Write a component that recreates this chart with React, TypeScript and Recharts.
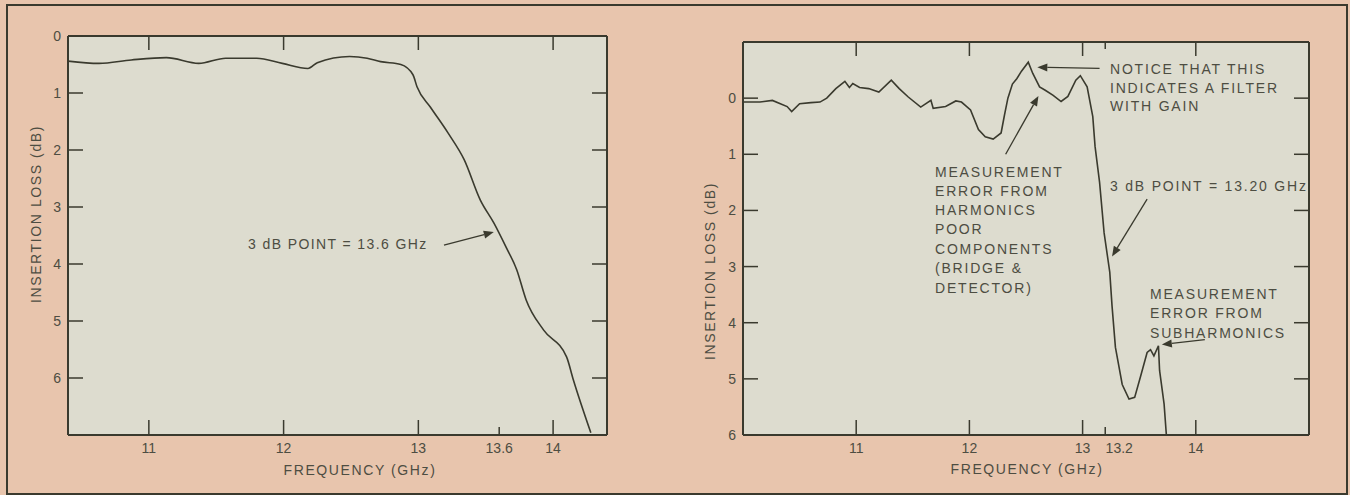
import { LineChart, Line, XAxis, YAxis, CartesianGrid, ReferenceLine } from "recharts";

// left panel: low-pass response
const leftFreq = [10.4, 10.63, 10.87, 11.13, 11.37, 11.57, 11.8, 11.99, 12.18, 12.25, 12.49, 12.62, 12.72, 12.87, 12.96, 12.99, 13.09, 13.22, 13.34, 13.46, 13.56, 13.65, 13.73, 13.8, 13.93, 14.1, 14.15, 14.28];
const leftLoss = [0.44, 0.48, 0.42, 0.38, 0.48, 0.39, 0.39, 0.48, 0.57, 0.47, 0.36, 0.39, 0.45, 0.5, 0.68, 0.89, 1.25, 1.7, 2.17, 2.88, 3.28, 3.7, 4.1, 4.63, 5.16, 5.63, 6.03, 6.96];

// right panel: filter measured with a bad setup
const rightFreq = [10.0, 10.15, 10.26, 10.33, 10.39, 10.43, 10.5, 10.6, 10.68, 10.74, 10.82, 10.9, 10.94, 10.97, 11.03, 11.11, 11.2, 11.31, 11.38, 11.46, 11.57, 11.66, 11.68, 11.79, 11.88, 11.93, 12.01, 12.08, 12.14, 12.21, 12.28, 12.31, 12.34, 12.38, 12.42, 12.46, 12.52, 12.56, 12.62, 12.67, 12.74, 12.81, 12.87, 12.94, 12.98, 13.04, 13.09, 13.11, 13.15, 13.19, 13.24, 13.26, 13.29, 13.35, 13.41, 13.46, 13.51, 13.57, 13.6, 13.63, 13.67, 13.68, 13.72, 13.74];
const rightLoss = [0.07, 0.07, 0.04, 0.1, 0.15, 0.24, 0.1, 0.08, 0.07, 0.0, -0.17, -0.3, -0.19, -0.26, -0.19, -0.17, -0.11, -0.32, -0.17, -0.02, 0.16, 0.04, 0.18, 0.15, 0.05, 0.07, 0.21, 0.56, 0.69, 0.73, 0.62, 0.3, 0.0, -0.25, -0.35, -0.48, -0.64, -0.44, -0.2, -0.14, -0.05, 0.06, -0.03, -0.32, -0.4, -0.2, 0.33, 0.86, 1.5, 2.4, 3.1, 3.7, 4.44, 5.1, 5.36, 5.33, 4.97, 4.53, 4.48, 4.59, 4.41, 4.85, 5.45, 6.0];

const leftXLabels = [11, 12, 13, 13.6, 14];
const leftXTop = [11, 12, 13, 14];
const leftYTicks = [0, 1, 2, 3, 4, 5, 6];
const rightXLabels = [11, 12, 13, 13.2, 14];
const rightXTop = [11, 12, 13, 13.2, 14];
const rightYTicks = [0, 1, 2, 3, 4, 5, 6];

const INK = "#3a3a2e";
const TEXT = "#4d4d42";
const PINK = "#e8c5ad";
const PLOT = "#dddccf";
const FONT = "'Liberation Sans', Arial, sans-serif";

const leftData = leftFreq.map((f, i) => ({ f, db: leftLoss[i] }));
const rightData = rightFreq.map((f, i) => ({ f, db: rightLoss[i] }));

const isShort = (v: number) => v === 13.6 || v === 13.2;

function Arrow(props: any) {
  const { x1, y1, x2, y2 } = props;
  const a = Math.atan2(y2 - y1, x2 - x1);
  const bx = x2 - 10 * Math.cos(a);
  const by = y2 - 10 * Math.sin(a);
  const px = -Math.sin(a) * 4;
  const py = Math.cos(a) * 4;
  return (
    <g>
      <line x1={x1} y1={y1} x2={bx} y2={by} stroke={INK} strokeWidth={1.3} />
      <polygon points={`${x2},${y2} ${bx + px},${by + py} ${bx - px},${by - py}`} fill={INK} />
    </g>
  );
}

function BottomTick(props: any) {
  const { x, y, payload } = props;
  const v = payload.value;
  const dx = v === 13.2 ? 14 : 0;
  return (
    <g>
      <line x1={x} x2={x} y1={y} y2={y - (isShort(v) ? 8 : 15)} stroke={INK} strokeWidth={1.5} />
      <text x={x + dx} y={y + 18} textAnchor="middle" fill={TEXT} fontSize={14} fontFamily={FONT}>
        {v}
      </text>
    </g>
  );
}

function TopTick(props: any) {
  const { x, y, payload } = props;
  return <line x1={x} x2={x} y1={y} y2={y + (isShort(payload.value) ? 7 : 14)} stroke={INK} strokeWidth={1.5} />;
}

function LeftTick(props: any) {
  const { x, y, payload } = props;
  return (
    <g>
      <line x1={x} x2={x + 15} y1={y} y2={y} stroke={INK} strokeWidth={1.5} />
      <text x={x - 7} y={y + 5} textAnchor="end" fill={TEXT} fontSize={14} fontFamily={FONT}>
        {payload.value}
      </text>
    </g>
  );
}

function RightTick(props: any) {
  const { x, y } = props;
  return <line x1={x} x2={x - 15} y1={y} y2={y} stroke={INK} strokeWidth={1.5} />;
}

type Seg = [number, number, number, number];

function Panel(p: {
  data: { f: number; db: number }[];
  width: number;
  margin: { top: number; right: number; bottom: number; left: number };
  xDomain: [number, number];
  yDomain: [number, number];
  xLabels: number[];
  xTop: number[];
  yTicks: number[];
  arrows: Seg[];
  curve: "linear" | "monotone";
}) {
  const axisLine = { stroke: INK, strokeWidth: 2 };
  return (
    <LineChart width={p.width} height={495} data={p.data} margin={p.margin}>
      <CartesianGrid xAxisId="b" yAxisId="l" horizontal={false} vertical={false} fill={PLOT} />
      <XAxis xAxisId="b" dataKey="f" type="number" domain={p.xDomain} allowDataOverflow ticks={p.xLabels} interval={0}
        tickSize={0} tickMargin={0} tickLine={false} tick={<BottomTick />} axisLine={axisLine} height={40} />
      <XAxis xAxisId="t" dataKey="f" orientation="top" mirror type="number" domain={p.xDomain} allowDataOverflow ticks={p.xTop}
        interval={0} tickSize={0} tickMargin={0} tickLine={false} tick={<TopTick />} axisLine={axisLine} />
      <YAxis yAxisId="l" type="number" domain={p.yDomain} reversed allowDataOverflow ticks={p.yTicks} interval={0}
        tickSize={0} tickMargin={0} tickLine={false} tick={<LeftTick />} axisLine={axisLine} width={40} />
      <YAxis yAxisId="r" orientation="right" mirror type="number" domain={p.yDomain} reversed allowDataOverflow ticks={p.yTicks}
        interval={0} tickSize={0} tickMargin={0} tickLine={false} tick={<RightTick />} axisLine={axisLine} />
      <Line xAxisId="b" yAxisId="l" dataKey="db" type={p.curve} stroke={INK} strokeWidth={1.6} dot={false} isAnimationActive={false} />
      {p.arrows.map((a, i) => (
        <ReferenceLine key={i} xAxisId="b" yAxisId="l" segment={[{ x: a[0], y: a[1] }, { x: a[2], y: a[3] }]} shape={<Arrow />} />
      ))}
    </LineChart>
  );
}

const note = { fill: TEXT, fontSize: 14, fontFamily: FONT, letterSpacing: 1.8 } as const;
const axisTitle = { fill: TEXT, fontSize: 14, fontFamily: FONT, letterSpacing: 1.6 } as const;

export default function App() {
  const harmonics = ["MEASUREMENT", "ERROR FROM", "HARMONICS", "POOR", "COMPONENTS", "(BRIDGE &", "DETECTOR)"];
  const harmY = [177, 196, 215, 234, 254, 273, 293];
  return (
    <div style={{ position: "absolute", left: 0, top: 0, width: 1350, height: 495, background: PINK, overflow: "hidden" }}>
      <div style={{ position: "absolute", left: 6, top: 4, width: 1338, height: 487, borderLeft: `2px solid ${INK}`, borderTop: `2px solid ${INK}`, borderRight: `2px solid ${INK}`, borderBottom: `2px solid ${INK}` }} />
      <div style={{ position: "absolute", left: 0, top: 0 }}>
        <Panel data={leftData} width={660} margin={{ top: 36, right: 53, bottom: 20, left: 28 }} xDomain={[10.4, 14.4]} yDomain={[0, 7]}
          xLabels={leftXLabels} xTop={leftXTop} yTicks={leftYTicks} curve="monotone"
          arrows={[[13.19, 3.67, 13.56, 3.44]]} />
      </div>
      <div style={{ position: "absolute", left: 660, top: 0 }}>
        <Panel data={rightData} width={690} margin={{ top: 42, right: 41, bottom: 20, left: 43 }} xDomain={[10, 15]} yDomain={[-1, 6]}
          xLabels={rightXLabels} xTop={rightXTop} yTicks={rightYTicks} curve="linear"
          arrows={[[13.15, -0.53, 12.6, -0.55], [12.32, 1.0, 12.61, -0.04], [13.57, 1.8, 13.26, 2.82], [14.08, 4.3, 13.7, 4.39]]} />
      </div>
      <svg width={1350} height={495} style={{ position: "absolute", left: 0, top: 0, pointerEvents: "none" }}>
        <text transform="translate(41,214) rotate(-90)" textAnchor="middle" {...axisTitle}>INSERTION LOSS (dB)</text>
        <text x={360} y={475} textAnchor="middle" {...axisTitle}>FREQUENCY (GHz)</text>
        <text x={248} y={249} {...note} letterSpacing={1.4}>3 dB POINT = 13.6 GHz</text>

        <text transform="translate(715,271) rotate(-90)" textAnchor="middle" {...axisTitle}>INSERTION LOSS (dB)</text>
        <text x={1027} y={474} textAnchor="middle" {...axisTitle}>FREQUENCY (GHz)</text>
        <text x={1110} y={74} {...note}>NOTICE THAT THIS</text>
        <text x={1110} y={93} {...note}>INDICATES A FILTER</text>
        <text x={1110} y={111} {...note}>WITH GAIN</text>
        {harmonics.map((t, i) => (
          <text key={t} x={935} y={harmY[i]} {...note}>{t}</text>
        ))}
        <text x={1110} y={191} {...note}>3 dB POINT = 13.20 GHz</text>
        <text x={1150} y={299} {...note}>MEASUREMENT</text>
        <text x={1150} y={318} {...note}>ERROR FROM</text>
        <text x={1150} y={338} {...note}>SUBHARMONICS</text>
      </svg>
    </div>
  );
}
